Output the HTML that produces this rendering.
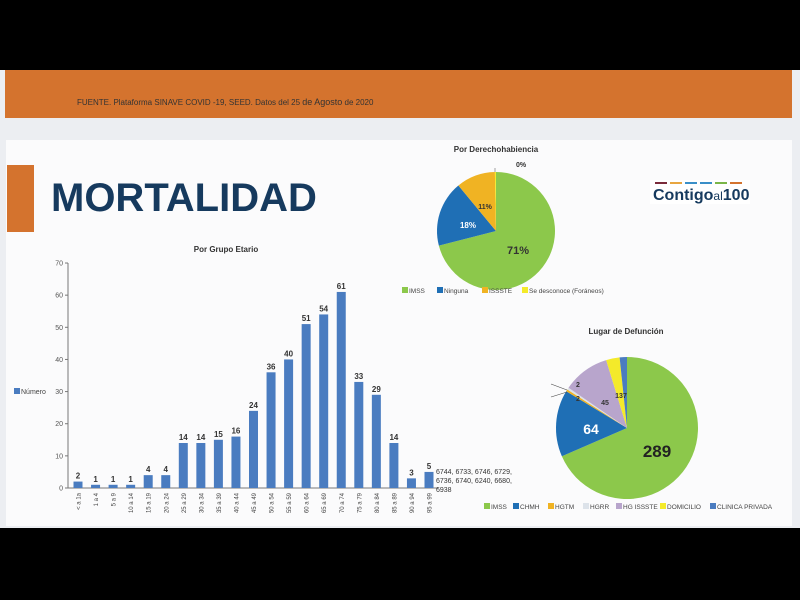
<!DOCTYPE html>
<html><head><meta charset="utf-8">
<style>
body{margin:0;width:800px;height:600px;background:#000;overflow:hidden;font-family:"Liberation Sans",sans-serif;}
#pg{position:absolute;left:0;top:70px;width:800px;height:458px;background:#eceef2;}
#band{position:absolute;left:5px;top:70px;width:787px;height:48px;background:#d4732e;}
#src{position:absolute;left:77px;top:97px;font-size:8px;color:#333;}
#slide{position:absolute;left:6px;top:140px;width:786px;height:386px;background:#fbfbfc;}
#obar{position:absolute;left:7px;top:165px;width:27px;height:67px;background:#d4732e;}
#title{position:absolute;left:51px;top:176px;font-size:40px;font-weight:900;color:#163a5e;letter-spacing:0px;}
</style></head><body>
<div id="pg"></div>
<div id="band"></div>
<div id="src">FUENTE. Plataforma SINAVE COVID -19, SEED. Datos del 25 <span style="font-size:9px">de Agosto</span> de 2020</div>
<div id="slide"></div>
<div id="obar"></div>
<div id="title">MORTALIDAD</div>
<svg id="s" width="800" height="600" style="position:absolute;left:0;top:0" font-family="Liberation Sans, sans-serif"></svg>
<script>
var s=document.getElementById('s'),h='';
h+='<rect x="650" y="180" width="100" height="24" fill="#fff"/>';
var lc=['#7a2a3a','#e8a640','#3a8fc8','#3a8fc8','#7ab648','#d4732e'];
for(var i=0;i<6;i++)h+='<rect x="'+(655+i*15)+'" y="182" width="12" height="2" fill="'+lc[i]+'"/>';
h+='<text x="653" y="200" font-size="16" font-weight="bold" fill="#163a5e">Contigo<tspan font-size="12" font-weight="normal">al</tspan>100</text>';
h+='<text x="226" y="252" font-size="8" font-weight="bold" fill="#333" text-anchor="middle">Por Grupo Etario</text>';
var y0=488,k=3.214;
h+='<line x1="68" y1="263" x2="68" y2="488" stroke="#777"/><line x1="68" y1="488" x2="438" y2="488" stroke="#777"/>';
for(var v=0;v<=70;v+=10){var y=y0-v*k;h+='<line x1="65" y1="'+y+'" x2="68" y2="'+y+'" stroke="#777"/><text x="63" y="'+(y+2.5)+'" font-size="7" fill="#555" text-anchor="end">'+v+'</text>';}
var d=[2,1,1,1,4,4,14,14,15,16,24,36,40,51,54,61,33,29,14,3,5];
var L=['< a 1a','1 a 4','5 a 9','10 a 14','15 a 19','20 a 24','25 a 29','30 a 34','35 a 39','40 a 44','45 a 49','50 a 54','55 a 59','60 a 64','65 a 69','70 a 74','75 a 79','80 a 84','85 a 89','90 a 94','95 a 99'];
for(var i=0;i<21;i++){var cx=78+i*17.55,y=y0-d[i]*k;
h+='<rect x="'+(cx-4.5)+'" y="'+y+'" width="9" height="'+(d[i]*k)+'" fill="#4a7cc0"/>';
h+='<text x="'+cx+'" y="'+(y-3)+'" font-size="8" font-weight="bold" fill="#333" text-anchor="middle">'+d[i]+'</text>';
h+='<text transform="translate('+(cx+2.5)+',493) rotate(-90)" font-size="6" fill="#444" text-anchor="end">'+L[i]+'</text>';}
h+='<rect x="14" y="388" width="6" height="6" fill="#4a7cc0"/><text x="21" y="394" font-size="7" fill="#444">Número</text>';
h+='<text font-size="7" fill="#333"><tspan x="436" y="474">6744, 6733, 6746, 6729,</tspan><tspan x="436" y="483">6736, 6740, 6240, 6680,</tspan><tspan x="436" y="492">6938</tspan></text>';
function pie(cx,cy,r,vals,cols){var t=0,tot=vals.reduce(function(a,b){return a+b},0),o='';
for(var i=0;i<vals.length;i++){var a0=t/tot*2*Math.PI;t+=vals[i];var a1=t/tot*2*Math.PI;
var x0=cx+r*Math.sin(a0),y0=cy-r*Math.cos(a0),x1=cx+r*Math.sin(a1),y1=cy-r*Math.cos(a1);
o+='<path d="M'+cx+','+cy+'L'+x0+','+y0+'A'+r+','+r+' 0 '+((a1-a0)>Math.PI?1:0)+' 1 '+x1+','+y1+'Z" fill="'+cols[i]+'"/>';}
return o;}
h+='<text x="496" y="152" font-size="8" font-weight="bold" fill="#333" text-anchor="middle">Por Derechohabiencia</text>';
h+='<text x="521" y="167" font-size="7" font-weight="bold" fill="#333" text-anchor="middle">0%</text>';
h+=pie(496,231,59,[71,18,10.7,0.3],['#8cc84b','#1f6fb5','#f0b323','#f4ea2a']);
h+='<line x1="495" y1="172" x2="495" y2="168" stroke="#666" stroke-width="0.6"/>';
h+='<text x="518" y="254" font-size="11" font-weight="bold" fill="#333" text-anchor="middle">71%</text>';
h+='<text x="468" y="228" font-size="8" font-weight="bold" fill="#fff" text-anchor="middle">18%</text>';
h+='<text x="485" y="209" font-size="7" font-weight="bold" fill="#333" text-anchor="middle">11%</text>';
var lg=[[402,'#8cc84b','IMSS'],[437,'#1f6fb5','Ninguna'],[482,'#f0b323','ISSSTE'],[522,'#f4ea2a','Se desconoce (Foráneos)']];
lg.forEach(function(g){h+='<rect x="'+g[0]+'" y="287" width="6" height="6" fill="'+g[1]+'"/><text x="'+(g[0]+7)+'" y="293" font-size="6.5" fill="#444">'+g[2]+'</text>';});
h+='<text x="626" y="334" font-size="8" font-weight="bold" fill="#333" text-anchor="middle">Lugar de Defunción</text>';
h+=pie(627,428,71,[289,64,2,2,45,13,7],['#8cc84b','#1f6fb5','#f0b323','#dde3ea','#b8a5cc','#f4ea2a','#4a7cc0']);
h+='<line x1="551" y1="384" x2="567" y2="390" stroke="#444" stroke-width="0.6"/><line x1="551" y1="397" x2="567" y2="392" stroke="#444" stroke-width="0.6"/>';
h+='<text x="657" y="457" font-size="17" font-weight="bold" fill="#222" text-anchor="middle">289</text>';
h+='<text x="591" y="434" font-size="14" font-weight="bold" fill="#fff" text-anchor="middle">64</text>';
h+='<text x="605" y="405" font-size="7" font-weight="bold" fill="#333" text-anchor="middle">45</text>';
h+='<text x="578" y="387" font-size="7" font-weight="bold" fill="#333" text-anchor="middle">2</text>';
h+='<text x="578" y="401" font-size="7" font-weight="bold" fill="#333" text-anchor="middle">2</text>';
h+='<text x="621" y="398" font-size="7" font-weight="bold" fill="#333" text-anchor="middle">137</text>';
var lg2=[[484,'#8cc84b','IMSS'],[513,'#1f6fb5','CHMH'],[548,'#f0b323','HGTM'],[583,'#dde3ea','HGRR'],[616,'#b8a5cc','HG ISSSTE'],[660,'#f4ea2a','DOMICILIO'],[710,'#4a7cc0','CLINICA PRIVADA']];
lg2.forEach(function(g){h+='<rect x="'+g[0]+'" y="503" width="6" height="6" fill="'+g[1]+'"/><text x="'+(g[0]+7)+'" y="509" font-size="6.5" fill="#444">'+g[2]+'</text>';});
s.innerHTML=h;
</script>
</body></html>
